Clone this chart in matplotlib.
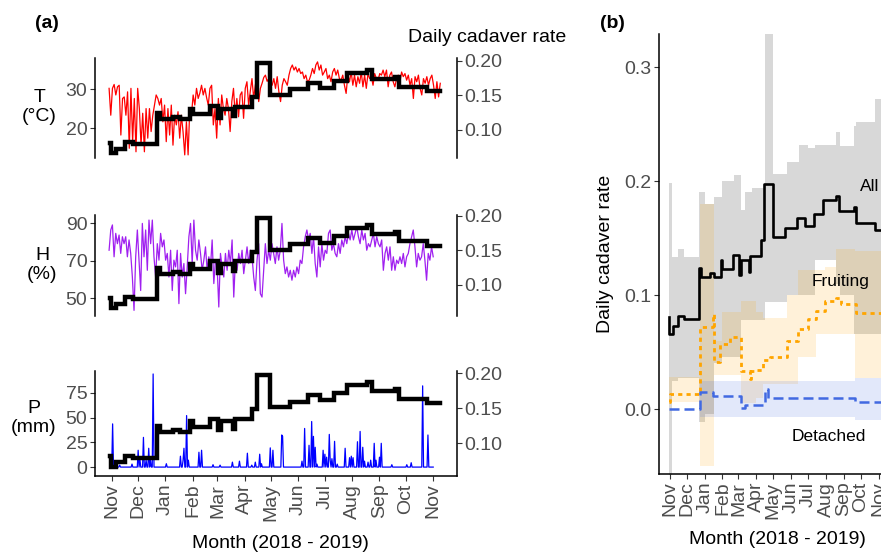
import numpy as np
import matplotlib.pyplot as plt

plt.rcParams['font.family'] = ['Liberation Sans', 'DejaVu Sans']

# ---- panel (a) data : days counted from 1 Nov 2018 ----
month_labels = ['Nov', 'Dec', 'Jan', 'Feb', 'Mar', 'Apr', 'May', 'Jun',
                'Jul', 'Aug', 'Sep', 'Oct', 'Nov']

# daily temperature (deg C), read roughly every ~2 days
temp = [30.2, 23.3, 30.2, 31.2, 28.5, 30.6, 31.0, 18.2, 27.6, 28.0,
        23.3, 29.3, 14.8, 30.2, 16.5, 27.6, 13.9, 30.2, 25.0, 15.6,
        23.8, 13.9, 25.0, 17.4, 25.0, 19.1, 23.3, 25.9, 28.5, 27.6,
        25.9, 27.6, 21.6, 25.9, 16.5, 25.0, 18.2, 25.9, 15.6, 23.3,
        20.8, 24.2, 17.4, 23.3, 19.0, 13.1, 21.6, 13.1, 25.0, 23.3,
        28.5, 25.9, 30.2, 27.6, 29.0, 31.0, 28.5, 30.2, 27.8, 25.9,
        30.2, 31.0, 20.8, 25.0, 17.4, 27.6, 20.8, 28.5, 25.0, 23.3,
        27.6, 25.0, 19.1, 26.8, 30.2, 23.3, 27.6, 22.9, 28.5, 29.3,
        22.5, 30.2, 31.9, 25.9, 29.5, 32.7, 27.6, 31.0, 33.6, 26.8,
        30.2, 31.5, 33.0, 33.6, 32.0,
        32.7, 31.9, 31.0, 32.7, 30.2, 33.2, 29.3, 26.8, 31.0, 32.7,
        31.9, 31.0, 33.6, 35.3, 36.2, 34.9, 35.7, 34.4, 35.3, 34.0,
        34.4, 32.7, 33.6, 31.9, 32.3, 33.6, 35.3, 34.0, 36.2, 37.0,
        34.9, 36.2, 33.6, 34.4, 35.3, 32.7, 33.6, 31.9, 34.4, 35.3,
        33.6, 34.9, 32.7, 32.3, 33.6, 31.0, 28.9, 33.6, 31.9, 34.4,
        31.0, 33.6, 30.6, 33.2, 31.5, 34.4, 30.6, 33.6, 30.2, 34.0,
        32.7, 33.2, 31.0, 34.0, 32.7, 32.3, 34.0, 33.6, 34.9, 33.2,
        34.9, 30.6, 33.6, 34.4, 31.9, 30.6, 32.7, 33.6, 31.9, 34.4,
        33.2, 34.0, 32.3, 33.6, 31.0, 32.7, 27.6, 33.2, 31.9, 33.6,
        30.2, 28.5, 32.7, 31.5, 33.2, 31.0, 32.7, 33.6, 31.0, 27.6,
        31.9, 28.0, 31.5]

# daily relative humidity (%)
humid = [75.5, 86.3, 89.0, 72.0, 84.5, 79.0, 83.6, 73.8, 82.7, 79.0,
         82.7, 72.0, 81.0, 73.8, 61.2, 43.4, 72.0, 86.3, 70.2, 54.0,
         89.8, 72.0, 86.3, 64.8, 91.6, 79.0, 91.6, 72.0, 61.2, 79.0,
         70.2, 84.5, 77.3, 81.0, 70.2, 73.8, 61.2, 75.5, 54.0, 70.2,
         66.6, 75.5, 47.0, 73.8, 61.2, 68.4, 52.3, 66.6, 82.7, 89.8,
         68.4, 91.6, 75.5, 70.2, 81.0, 73.8, 64.8, 70.2, 77.3, 64.8,
         72.0, 66.6, 81.0, 57.7, 70.2, 66.6, 45.2, 73.8, 66.6, 61.2,
         73.8, 64.8, 75.5, 68.4, 81.0, 50.5, 70.2, 64.8, 73.8, 68.4,
         75.5, 63.0, 70.2, 77.3, 68.4, 75.5, 72.0, 61.2, 54.0, 70.2,
         79.0, 52.3, 50.5, 64.8, 79.0, 68.4, 75.5,
         70.2, 79.0, 73.8, 68.4, 77.3, 70.2, 75.5, 89.8, 70.2, 63.0,
         66.6, 61.2, 64.8, 59.5, 64.8, 61.2, 66.6, 63.0, 70.2, 68.4,
         77.3, 82.7, 86.3, 81.0, 84.5, 73.8, 82.7, 68.4, 61.2, 77.3,
         66.6, 79.0, 70.2, 75.5, 73.8, 84.5, 86.3, 75.5, 79.0, 73.8,
         72.0, 79.0, 73.8, 81.0, 77.3, 82.7, 79.0, 84.5, 81.0, 86.3,
         81.0, 84.5, 88.0, 82.7, 79.0, 86.3, 81.0, 84.5, 75.5, 79.0,
         77.3, 81.0, 84.5, 77.3, 82.7, 79.0, 77.3, 81.0, 64.8, 73.8,
         77.3, 70.2, 77.3, 64.8, 72.0, 64.8, 70.2, 68.4, 72.0, 68.4,
         73.8, 66.6, 72.0, 73.8, 79.0, 82.7, 86.3, 77.3, 66.6, 73.8,
         70.2, 72.0, 79.0, 70.2, 59.5, 73.8, 70.2, 77.3, 72.0]

# rain events (day, mm); all other days are dry
rain_day = [1, 4, 9, 23, 30, 32, 36, 39, 42, 44, 47, 62, 78, 81, 82, 85, 87,
            99, 102, 115, 123, 137, 145, 154, 159, 163, 168, 170, 180, 183,
            193, 194, 216, 219, 224, 227, 229, 231, 233, 240, 242, 244, 247,
            248, 250, 253, 256, 265, 270, 272, 274, 279, 282, 285, 287, 291,
            294, 298, 300, 304, 306, 318, 335, 340, 353, 359]
rain_mm = [43.6, 3, 2, 3, 17, 7.5, 30, 7, 19, 7, 94, 3.4, 11, 7, 19, 52, 7,
           15, 17, 2.4, 2, 5, 6, 14, 2, 5, 13, 3.4, 19.4, 17,
           32.4, 31, 6, 39, 22, 46, 31, 20, 3, 17, 13, 10, 33,
           7, 8.5, 26, 3, 19, 9.5, 11, 9.5, 25.6, 36, 20, 6, 5,
           7, 24, 7, 10, 24, 2.4, 2.4, 4.4, 82, 32.4]

# daily cadaver rate, all cadavers (step changes)
rate_day = [-2, -1, 5, 15, 24, 51, 55, 70, 77, 89, 92, 111, 121, 124, 138,
            140, 159, 165, 180, 202, 223, 236, 252, 267, 290, 295, 322, 326,
            358, 373]
rate_all = [0.081, 0.066, 0.073, 0.082, 0.079, 0.124, 0.116, 0.119, 0.116,
            0.131, 0.123, 0.135, 0.118, 0.131, 0.120, 0.134, 0.148, 0.197,
            0.151, 0.159, 0.168, 0.161, 0.171, 0.183, 0.187, 0.174, 0.177,
            0.163, 0.157, 0.157]

# ---- panel (b) data ----
all_ci_day = [-2, 3, 14, 24, 51, 61, 77, 92, 112, 125, 131, 143, 167, 181,
              205, 225, 241, 253, 291, 297, 322, 326, 358, 373]
all_hi = [0.198, 0.133, 0.140, 0.133, 0.190, 0.180, 0.186, 0.200, 0.205,
          0.175, 0.190, 0.194, 0.340, 0.206, 0.217, 0.232, 0.229, 0.232,
          0.243, 0.231, 0.248, 0.252, 0.272, 0.272]
all_lo = [-0.060, 0.025, 0.027, 0.027, -0.011, -0.004, 0.040, 0.046, 0.046,
          0.078, 0.078, 0.078, 0.094, 0.094, 0.100, 0.100, 0.100, 0.131,
          0.110, 0.100, 0.066, 0.066, 0.066, 0.066]

fruit_day = [-2, 0, 52, 75, 78, 87, 105, 125, 140, 142, 151, 163, 175, 204,
             224, 241, 256, 271, 291, 300, 326, 373]
fruit = [0.006, 0.013, 0.072, 0.083, 0.041, 0.057, 0.063, 0.033, 0.026,
         0.033, 0.034, 0.043, 0.046, 0.060, 0.070, 0.079, 0.086, 0.095,
         0.097, 0.092, 0.084, 0.084]
fruit_ci_day = [-2, 52, 61, 77, 92, 125, 151, 163, 204, 224, 256, 271, 291,
                323, 373]
fruit_hi = [0.028, 0.180, 0.180, 0.060, 0.085, 0.095, 0.085, 0.080, 0.100,
            0.122, 0.122, 0.125, 0.140, 0.139, 0.139]
fruit_lo = [0.006, -0.050, -0.050, 0.030, 0.030, 0.005, 0.010, 0.022, 0.022,
            0.046, 0.066, 0.066, 0.066, 0.027, 0.027]

det_day = [-2, 52, 76, 125, 131, 166, 172, 323, 373]
det = [0.0, 0.015, 0.011, 0.001, 0.0035, 0.018, 0.010, 0.006, 0.006]
det_ci_day = [-2, 52, 323, 373]
det_hi = [0.0, 0.025, 0.027, 0.027]
det_lo = [0.0, -0.007, -0.010, -0.010]

# month tick positions in days
months = np.arange('2018-11', '2019-12', dtype='datetime64[M]')
month_day = (months.astype('datetime64[D]') - np.datetime64('2018-11-01')).astype(int)

temp_day = np.linspace(-3, 373, len(temp))
humid_day = np.linspace(-3, 365, len(humid))
precip_day = np.arange(0, 366)
precip = np.zeros(len(precip_day))
precip[rain_day] = rain_mm

W, H = 881, 553
fig = plt.figure(figsize=(W / 100, H / 100), dpi=100)


def add_ax(x0, y0, x1, y1):
    return fig.add_axes([x0 / W, 1 - y1 / H, (x1 - x0) / W, (y1 - y0) / H])


grey_txt = '#4D4D4D'
fs = 14
xlim = (-19, 392)

panels = [
    (add_ax(95, 58, 457, 158), temp_day, temp, 'red', (12.3, 38.0), [20, 30],
     (0.0594, 0.2043), 'T\n(°C)', (39.5, 107)),
    (add_ax(95, 215, 457, 316), humid_day, humid, '#A020F0', (40.4, 94.3),
     [50, 70, 90], (0.055, 0.2014), 'H\n(%)', (42, 265)),
    (add_ax(95, 371, 457, 476), precip_day, precip, 'blue', (-9, 97),
     [0, 25, 50, 75], (0.053, 0.2029), 'P\n(mm)', (33.5, 418)),
]

for i, (ax, xd, yd, col, ylim, yt, rlim, lab, lpos) in enumerate(panels):
    ax.plot(xd, yd, color=col, lw=0.9)
    ax.set_xlim(*xlim)
    ax.set_ylim(*ylim)
    ax.set_yticks(yt)
    ax.tick_params(axis='y', labelsize=fs, labelcolor=grey_txt, length=3.5,
                   width=0.8, color='#333333', pad=2)
    for s in ['top', 'right']:
        ax.spines[s].set_visible(False)
    ax.spines['left'].set_linewidth(1.1)
    if i < 2:
        ax.spines['bottom'].set_visible(False)
        ax.set_xticks([])
    else:
        ax.spines['bottom'].set_linewidth(1.1)
        ax.set_xticks(month_day)
        ax.set_xticklabels(month_labels, rotation=90)
        ax.tick_params(axis='x', labelsize=fs, labelcolor=grey_txt, length=3.5,
                       width=0.8, color='#333333', pad=2)
    fig.text(lpos[0] / W, 1 - lpos[1] / H, lab, ha='center', va='center',
             fontsize=fs, multialignment='center', linespacing=1.15)

    axr = ax.twinx()
    axr.step(rate_day, rate_all, where='post', color='black', lw=3.2,
             solid_joinstyle='miter')
    axr.set_ylim(*rlim)
    axr.set_yticks([0.10, 0.15, 0.20])
    axr.set_yticklabels(['0.10', '0.15', '0.20'])
    axr.tick_params(axis='y', labelsize=fs, labelcolor=grey_txt, length=3.5,
                    width=0.8, color='#333333', pad=2)
    for s in ['top', 'left', 'bottom']:
        axr.spines[s].set_visible(False)
    axr.spines['right'].set_linewidth(1.1)

fig.text(35 / W, 1 - 23 / H, '(a)', fontsize=fs, fontweight='bold', va='center')
fig.text(487 / W, 1 - 37 / H, 'Daily cadaver rate', fontsize=fs,
         ha='center', va='center')
fig.text(280 / W, 1 - 543 / H, 'Month (2018 - 2019)', fontsize=fs,
         ha='center', va='center')

# ---- panel (b) ----
axb = add_ax(659, 34, 894, 474)
axb.fill_between(all_ci_day, all_lo, all_hi, step='post', color='grey',
                 alpha=0.3, lw=0)
axb.fill_between(fruit_ci_day, fruit_lo, fruit_hi, step='post',
                 color='#FFA500', alpha=0.15, lw=0)
axb.fill_between(det_ci_day, det_lo, det_hi, step='post', color='#4169E1',
                 alpha=0.15, lw=0)
axb.step(rate_day, rate_all, where='post', color='black', lw=1.9)
axb.step(fruit_day, fruit, where='post', color='#FFA500', lw=2,
         linestyle=(0, (1.5, 1.5)))
axb.step(det_day, det, where='post', color='#4169E1', lw=1.8,
         linestyle=(0, (4, 2)))
axb.set_xlim(*xlim)
axb.set_ylim(-0.057, 0.329)
axb.set_yticks([0.0, 0.1, 0.2, 0.3])
axb.set_yticklabels(['0.0', '0.1', '0.2', '0.3'])
axb.set_xticks(month_day)
axb.set_xticklabels(month_labels, rotation=90)
axb.tick_params(labelsize=fs, labelcolor=grey_txt, length=3.5, width=0.8,
                color='#333333', pad=2)
for s in ['top', 'right']:
    axb.spines[s].set_visible(False)
for s in ['left', 'bottom']:
    axb.spines[s].set_linewidth(1.1)
axb.text(332, 0.195, 'All', fontsize=12.5, va='center')
axb.text(248, 0.112, 'Fruiting', fontsize=12.5, va='center')
axb.text(213, -0.024, 'Detached', fontsize=12.5, va='center')

fig.text(605 / W, 1 - 254 / H, 'Daily cadaver rate', fontsize=fs,
         rotation=90, ha='center', va='center')
fig.text(600 / W, 1 - 24 / H, '(b)', fontsize=fs, fontweight='bold',
         va='center')
fig.text(777 / W, 1 - 539 / H, 'Month (2018 - 2019)', fontsize=fs,
         ha='center', va='center')

fig.savefig('out.png', dpi=100)
